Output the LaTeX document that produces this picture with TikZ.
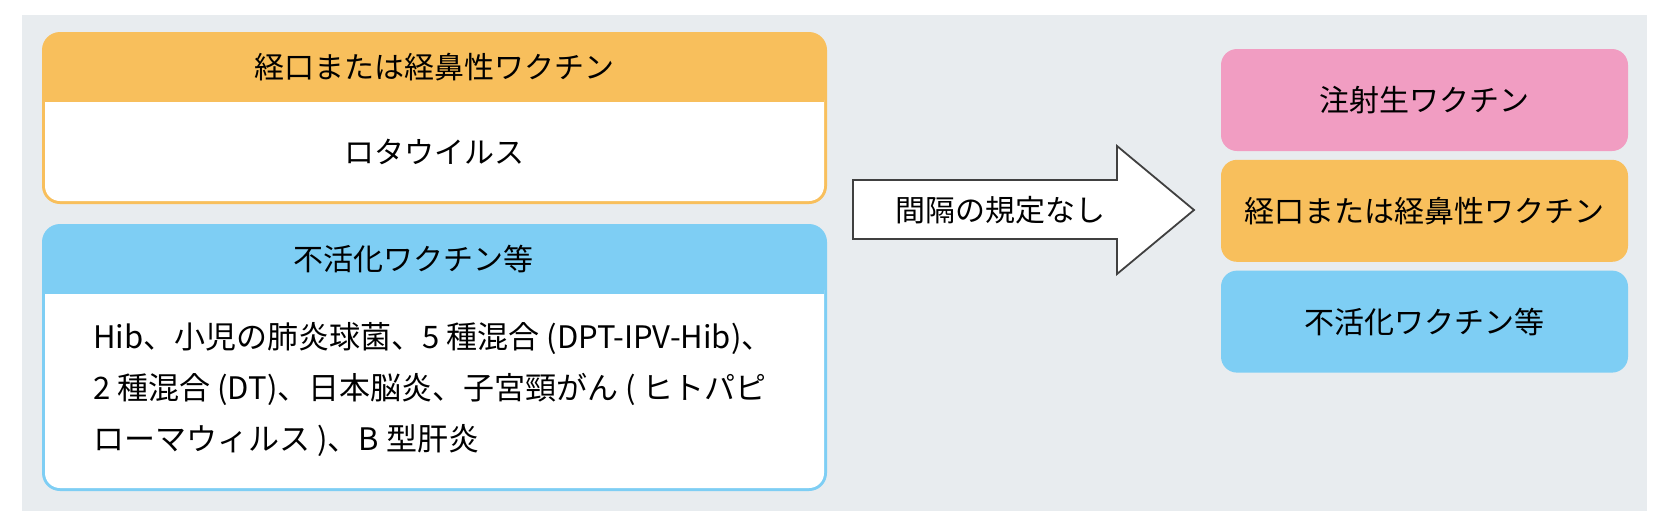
\documentclass[tikz,border=0pt]{standalone}
\usepackage{fontspec}
\setmainfont{Noto Sans CJK JP}
\usetikzlibrary{positioning}
\definecolor{bggray}{RGB}{232,236,239}
\definecolor{oralorange}{RGB}{248,191,92}
\definecolor{livepink}{RGB}{241,157,194}
\definecolor{inactblue}{RGB}{126,206,244}
\definecolor{arrowgray}{RGB}{64,64,64}

\begin{document}
\begin{tikzpicture}[x=0.5pt, y=-0.5pt,
    every node/.style={font=\fontsize{15pt}{25.5pt}\selectfont, inner sep=0pt},
    kindbox/.style={rounded corners=8pt, minimum width=203.5pt, minimum height=51pt}]
    \useasboundingbox (0,0) rectangle (1671,527);
    \fill[bggray] (22,15) rectangle (1647,511);
    % left: oral box
    \fill[oralorange, rounded corners=9pt] (42,32) rectangle (827,204);
    \fill[white, rounded corners=7.5pt] (45,85) rectangle (824,201);
    \fill[oralorange] (45,75) rectangle (824,102);
    \node (oralhead) at (434,67) {経口または経鼻性ワクチン};
    \node (rota) at (434,152) {ロタウイルス};
    % left: inactivated box
    \fill[inactblue, rounded corners=9pt] (42,224) rectangle (827,491);
    \fill[white, rounded corners=7.5pt] (45,275) rectangle (824,488);
    \fill[inactblue] (45,265) rectangle (824,294);
    \node (inacthead) at (413,259) {不活化ワクチン等};
    \node[anchor=west, align=left, font=\fontsize{15.5pt}{25.5pt}\selectfont] (inactlist) at (93,389)
        {Hib、小児の肺炎球菌、5 種混合 (DPT-IPV-Hib)、\\
         2 種混合 (DT)、日本脳炎、子宮頸がん ( ヒトパピ\\
         ローマウィルス )、B 型肝炎};
    % arrow
    \draw[arrowgray, line width=0.9pt, fill=white] (853,180) -- (1117,180) -- (1117,146)
        -- (1194,210) -- (1117,274) -- (1117,239) -- (853,239) -- cycle;
    \node (nolimit) at (1000,210) {間隔の規定なし};
    % right: kinds
    \node[kindbox, fill=livepink] (livekind) at (1424.5,100) {注射生ワクチン};
    \node[kindbox, fill=oralorange, below=4pt of livekind] (oralkind) {経口または経鼻性ワクチン};
    \node[kindbox, fill=inactblue, below=4pt of oralkind] (inactkind) {不活化ワクチン等};
\end{tikzpicture}
\end{document}
